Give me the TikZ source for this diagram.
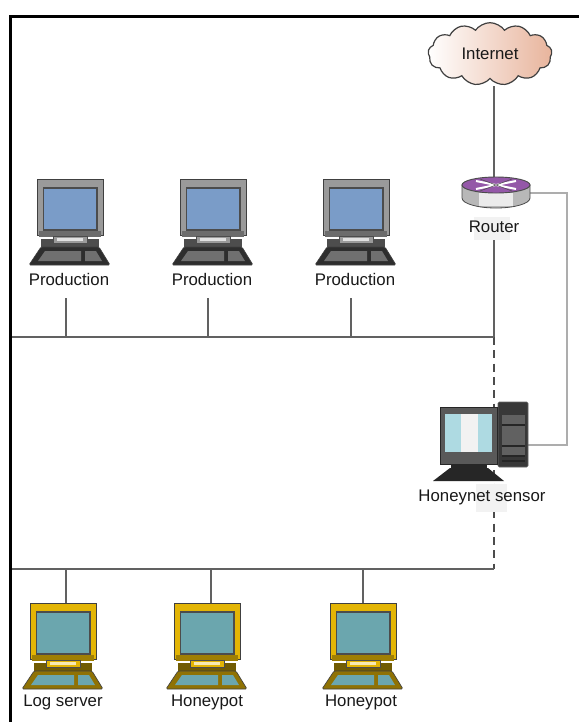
\documentclass[tikz,border=0pt]{standalone}
\usepackage{fontspec}
\setmainfont{Liberation Sans}
\usetikzlibrary{shapes.symbols,shapes.geometric}
\definecolor{hpyel}{HTML}{E3B505}
\definecolor{hpscr}{HTML}{6BA6AE}
\definecolor{hpbase}{HTML}{8F7204}
\definecolor{pgray}{HTML}{9A9A9A}
\definecolor{pscr}{HTML}{7A9CC8}
\definecolor{pbase}{HTML}{2E2E2E}
\definecolor{pkey}{HTML}{707070}
\definecolor{cloudmid}{HTML}{F6DCCD}
\definecolor{cloudright}{HTML}{E8B49C}
\definecolor{routerpurple}{HTML}{9458A8}
\definecolor{sensorscr}{HTML}{AEDAE2}
\tikzset{
  x=0.75pt,y=-0.75pt,
  wire/.style={draw=black!62,line width=0.95pt},
  dashwire/.style={draw=black!70,line width=0.95pt,dash pattern=on 6pt off 4pt},
  thickwire/.style={draw=black!32,line width=2pt},
  lab/.style={font=\fontsize{12.6}{14}\selectfont,inner sep=0pt,text=black!90},
}
\newcommand{\computer}[4]{%
 \begin{scope}[shift={(#1,#2)}]
  \fill[#3!50!black] (16,52) rectangle (50,68);
  \fill[#3!50!black] (4,60) rectangle (62,68);
  \fill[#3,draw=black!75,line width=0.6pt] (0,0) rectangle (66,56);
  \fill[#3!70!black] (2,52) rectangle (64,58);
  \fill[#4,draw=black!70,line width=0.8pt] (6.5,9) rectangle (60,51);
  \fill[#3,draw=black!70,line width=0.5pt] (16,57) rectangle (50,64);
  \fill[white!70!#3] (20,59) rectangle (46,62);
 \end{scope}}
\newcommand{\keyboard}[4]{%
 \begin{scope}[shift={(#1,#2)}]
  \fill[#3,draw=black!75,line width=0.5pt,rounded corners=1pt] (4,68) -- (62,68) -- (73,86) -- (-8,86) -- cycle;
  \fill[#4] (8,72) -- (44,72) -- (44,82) -- (1,82) -- cycle;
  \fill[#4] (48,72) -- (59,72) -- (65,82) -- (48,82) -- cycle;
 \end{scope}}
\begin{document}
\begin{tikzpicture}
\useasboundingbox (0,0) rectangle (579,722);
\fill[white] (0,0) rectangle (579,722);
% frame
\fill[black] (9,14.5) rectangle (579,17.5);
\fill[black] (9,14.5) rectangle (12,722);

% bus coordinates
\coordinate (busAL) at (12,337);
\coordinate (busAR) at (494,337);
\coordinate (busBL) at (12,569);
\coordinate (busBR) at (494,569);
\coordinate (p1bus) at (66,337);
\coordinate (p2bus) at (208,337);
\coordinate (p3bus) at (351,337);
\coordinate (p1top) at (66,298);
\coordinate (p2top) at (208,298);
\coordinate (p3top) at (351,298);
\coordinate (h1bus) at (66,569);
\coordinate (h2bus) at (211,569);
\coordinate (h3bus) at (363,569);
\coordinate (h1top) at (66,603);
\coordinate (h2top) at (211,603);
\coordinate (h3top) at (363,603);
\coordinate (cloudbot) at (494,86);
\coordinate (rtop) at (494,177);
\coordinate (rbot) at (494,240);
\coordinate (rright) at (530,193);
\coordinate (cornerA) at (567,193);
\coordinate (cornerB) at (567,445);
\coordinate (tower) at (528,445);

% connectors
\draw[dashwire] (busAR) -- (busBR);
\draw[wire] (busAL) -- (busAR);
\draw[wire] (busBL) -- (busBR);
\draw[wire] (p1top) -- (p1bus);
\draw[wire] (p2top) -- (p2bus);
\draw[wire] (p3top) -- (p3bus);
\draw[wire] (h1bus) -- (h1top);
\draw[wire] (h2bus) -- (h2top);
\draw[wire] (h3bus) -- (h3top);
\draw[wire] (rbot) -- (busAR);
\draw[thickwire] (rright) -- (cornerA) -- (cornerB) -- (tower);
\draw[wire] (cloudbot) -- (rtop);

% cloud
\node[cloud,cloud puffs=13,cloud puff arc=110,aspect=2,draw=black!75,line width=0.9pt,
  left color=white,middle color=cloudmid,right color=cloudright,
  minimum width=93pt,minimum height=47pt,inner sep=0pt] (internet) at (490,54) {};
\node[lab] (internetlab) at (490,54) {Internet};

% router
\fill[black!28,draw=black!70,line width=0.6pt] (462,185) -- (462,198) arc[start angle=180,end angle=0,x radius=34,y radius=10] -- (530,185) -- cycle;
\fill[white!92!black] (479,193) rectangle (513,206);
\fill[routerpurple,draw=black!70,line width=0.7pt] (496,185) ellipse[x radius=34,y radius=8];
\draw[white,line width=1.5pt] (476,181) -- (516,189) (476,189) -- (516,181);
\draw[black!70,line width=0.4pt] (480,179) -- (512,191) (480,191) -- (512,179);
\fill[white!95!black] (474,217) rectangle (510,240);
\node[lab] (routerlab) at (494,227) {Router};

% production
\computer{37}{179}{pgray}{pscr}\keyboard{37}{179}{pbase}{pkey}
\computer{180}{179}{pgray}{pscr}\keyboard{180}{179}{pbase}{pkey}
\computer{323}{179}{pgray}{pscr}\keyboard{323}{179}{pbase}{pkey}
\node[lab] (p1) at (69,279) {Production};
\node[lab] (p2) at (212,279) {Production};
\node[lab] (p3) at (355,279) {Production};

% honeypots
\computer{30}{603}{hpyel}{hpscr}\keyboard{30}{603}{hpbase}{hpscr}
\computer{174}{603}{hpyel}{hpscr}\keyboard{174}{603}{hpbase}{hpscr}
\computer{330}{603}{hpyel}{hpscr}\keyboard{330}{603}{hpbase}{hpscr}
\node[lab] (h1) at (63,702) {Log server};
\node[lab] (h2) at (207,702) {Honeypot};
\node[lab] (h3) at (361,702) {Honeypot};

% sensor
\begin{scope}
 \fill[black!78,draw=black!60,line width=0.4pt,rounded corners=1pt] (498,402) rectangle (528,467);
 \fill[black!62] (502,415) rectangle (525,455);
 \draw[black!85,line width=0.8pt] (502,425) -- (525,425) (502,446) -- (525,446) (502,456) -- (525,456) (502,461) -- (525,461);
 \fill[black!65,draw=black!85,line width=0.5pt] (440,407) rectangle (497,464);
 \fill[sensorscr] (445,414) rectangle (492,452);
 \fill[white!95!black] (461,414) rectangle (478,452);
 \fill[black!85] (451,464) rectangle (487,470);
 \fill[black!85] (450,468) -- (488,468) -- (504,481) -- (433,481) -- cycle;
\end{scope}
\fill[white!95!black] (476,484) rectangle (507,512);
\node[lab] (sensor) at (482,497) {Honeynet sensor};
\end{tikzpicture}
\end{document}
